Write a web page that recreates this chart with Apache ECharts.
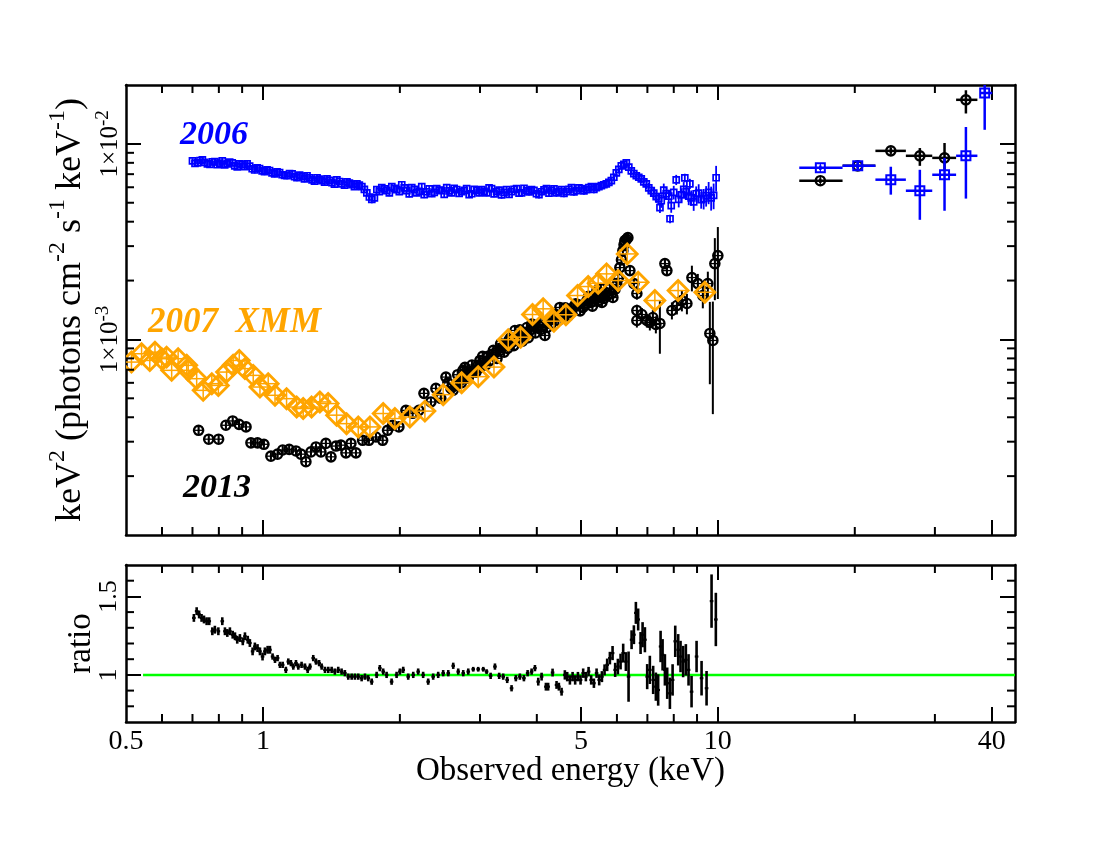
<!DOCTYPE html>
<html><head><meta charset="utf-8">
<script src="https://cdn.jsdelivr.net/npm/echarts@6/dist/echarts.min.js"></script>
<style>html,body{margin:0;padding:0;background:#fff}#c{width:1100px;height:850px}</style>
</head><body><div id="c"></div>
<script>
// ---------------- DATA ----------------
// flux values in units of 1e-3 keV^2 photons cm^-2 s^-1 keV^-1
const FLUX_UNIT = 1e-3;

// 2006 (blue squares): [E keV, flux, relative error]
const blue2006 = [
[0.700,8.19,.03],[0.718,8.00,.03],[0.736,8.29,.03],[0.755,7.91,.03],[0.774,8.09,.03],[0.794,7.82,.03],
[0.814,8.19,.035],[0.835,7.91,.03],[0.856,8.00,.03],[0.878,7.63,.03],[0.900,7.82,.035],[0.923,7.91,.035],
[0.947,7.46,.04],[0.971,7.55,.04],[0.996,7.28,.04],[1.021,7.37,.04],[1.047,7.11,.04],[1.074,7.20,.04],
[1.102,6.95,.04],[1.130,6.87,.04],[1.159,7.03,.045],[1.188,6.71,.04],[1.219,6.79,.04],[1.250,6.87,.045],
[1.282,6.55,.04],[1.315,6.71,.04],[1.348,6.48,.04],[1.383,6.63,.045],[1.418,6.33,.04],[1.454,6.55,.04],
[1.491,6.25,.04],[1.530,6.40,.04],[1.569,6.18,.04],[1.609,6.25,.045],[1.650,6.04,.04],[1.692,5.62,.045],
[1.735,5.20,.045],[1.780,5.83,.045],[1.825,5.97,.04],[1.872,5.76,.04],[1.920,6.04,.04],[1.969,5.83,.04],
[2.019,6.18,.045],[2.071,5.76,.04],[2.124,5.97,.04],[2.178,5.62,.04],[2.234,6.04,.045],[2.291,5.69,.04],
[2.350,5.56,.04],[2.410,5.90,.04],[2.471,5.76,.04],[2.535,5.97,.045],[2.599,5.62,.04],[2.666,5.83,.04],
[2.734,5.69,.04],[2.804,5.90,.04],[2.876,5.56,.04],[2.949,5.76,.04],[3.025,5.83,.045],[3.102,5.62,.04],
[3.181,5.90,.045],[3.263,5.69,.04],[3.346,5.49,.045],[3.432,5.83,.04],[3.520,5.69,.04],[3.610,5.90,.045],
[3.702,5.62,.04],[3.797,5.76,.04],[3.894,5.83,.045],[3.993,5.56,.04],[4.096,5.69,.045],[4.200,5.90,.04],
[4.308,5.76,.04],[4.418,5.62,.045],[4.531,5.83,.04],[4.647,5.69,.045],[4.766,5.97,.04],[4.888,5.76,.045],
[5.013,5.90,.04],[5.141,5.83,.045],[5.272,6.04,.04],[5.407,5.97,.045],[5.546,6.11,.045],[5.687,6.25,.045],
[5.833,6.48,.045],[5.982,7.11,.045],[6.135,7.72,.045],[6.292,8.00,.045],[6.453,7.28,.045],[6.618,6.87,.05],
[6.787,6.63,.05],[6.961,6.25,.06],[7.139,5.76,.06],[7.321,5.37,.07],[7.509,5.12,.08],[7.701,5.56,.07],
[7.898,4.83,.08],[8.100,6.55,.06],[8.307,5.49,.08],[8.519,5.69,.08],[8.737,5.30,.09],[8.961,5.56,.09],
[9.190,5.18,.1],[9.425,5.43,.12],[9.666,5.30,.14],[9.913,6.71,.15],
[7.46,4.72,.06],[7.85,4.14,.05],[8.46,6.70,.05],[8.68,6.25,.06]
];
// 2006, interleaved channels (blue squares): [E keV, flux, relative error]
const blue2006b = [
[0.709,7.95,.03],[0.727,8.22,.03],[0.745,8.05,.03],[0.765,7.86,.03],[0.784,8.12,.03],[0.804,7.98,.03],
[0.824,7.80,.03],[0.845,8.06,.03],[0.867,7.72,.03],[0.889,7.90,.035],[0.912,7.65,.035],[0.935,7.70,.035],
[0.959,7.35,.04],[0.983,7.48,.04],[1.008,7.20,.04],[1.034,7.30,.04],[1.061,7.02,.04],[1.088,7.12,.04],
[1.116,6.90,.04],[1.144,7.05,.04],[1.174,6.80,.04],[1.204,6.92,.04],[1.234,6.62,.04],[1.266,6.70,.04],
[1.298,6.45,.04],[1.331,6.60,.04],[1.366,6.38,.04],[1.400,6.50,.04],[1.436,6.22,.04],[1.473,6.42,.04],
[1.511,6.15,.04],[1.549,6.30,.04],[1.589,6.05,.04],[1.629,6.15,.04],[1.671,5.85,.04],[1.714,5.35,.045],
[1.758,5.30,.045],[1.802,5.70,.04],[1.849,5.88,.04],[1.896,5.62,.04],[1.944,5.92,.04],[1.994,5.70,.04],
[2.045,5.95,.04],[2.097,5.55,.04],[2.151,5.85,.04],[2.206,5.72,.04],[2.262,5.50,.04],[2.320,5.88,.04],
[2.380,5.65,.04],[2.440,5.80,.04],[2.503,5.52,.04],[2.567,5.75,.04],[2.632,5.92,.04],[2.700,5.58,.04],
[2.769,5.78,.04],[2.840,5.50,.04],[2.912,5.85,.04],[2.987,5.62,.04],[3.063,5.72,.04],[3.141,5.95,.04],
[3.222,5.55,.04],[3.304,5.80,.04],[3.389,5.65,.04],[3.476,5.52,.04],[3.565,5.85,.04],[3.656,5.60,.04],
[3.749,5.92,.04],[3.845,5.68,.04],[3.943,5.78,.04],[4.044,5.50,.045],[4.148,5.82,.045],[4.254,5.60,.045],
[4.363,5.88,.045],[4.474,5.70,.045],[4.589,5.58,.045],[4.706,5.85,.045],[4.827,5.68,.045],[4.950,5.95,.045],
[5.077,5.75,.045],[5.206,5.98,.045],[5.339,5.85,.045],[5.476,6.05,.045],[5.616,6.18,.045],[5.760,6.35,.045],
[5.907,6.75,.045],[6.058,7.40,.045],[6.213,7.85,.045],[6.372,7.60,.045],[6.535,7.05,.05],[6.702,6.75,.05],
[6.874,6.40,.06],[7.050,5.95,.06],[7.230,5.60,.07],[7.415,5.25,.07],[7.605,5.80,.08],[7.799,5.40,.08],
[7.999,5.65,.08],[8.203,5.20,.09],[8.413,5.85,.09],[8.628,5.40,.1],[8.849,5.05,.1],[9.075,5.60,.11],
[9.307,5.25,.12],[9.545,5.65,.13],[9.789,5.45,.15]
];

// 2006 hard X-ray (blue): [Elo, Ehi, E, flux, fluxLo, fluxHi]
const blue2006Hard = [
[15.1,18.8,16.8,7.55,7.35,7.75],[18.8,22.2,20.3,7.72,7.30,8.15],[22.2,25.9,24.0,6.56,5.50,7.64],
[25.9,29.6,27.8,5.76,4.09,7.37],[29.6,33.4,31.5,6.95,4.55,8.48],[33.4,37.2,35.1,8.69,5.25,12.2],
[37.7,40.1,38.6,18.2,11.8,21.0]
];

// 2013 (black circles): [E keV, flux, relative error]
const black2013 = [
[0.722,0.343,.04],[0.760,0.309,.04],[0.799,0.309,.04],[0.829,0.364,.04],[0.858,0.383,.04],[0.886,0.368,.04],
[0.918,0.357,.04],[0.941,0.296,.04],[0.973,0.296,.04],[1.005,0.291,.04],[1.041,0.253,.04],[1.077,0.259,.04],
[1.105,0.272,.04],[1.142,0.274,.04],[1.182,0.269,.04],[1.212,0.259,.04],[1.243,0.237,.04],[1.275,0.266,.04],
[1.308,0.282,.04],[1.341,0.266,.04],[1.375,0.294,.04],[1.411,0.251,.04],[1.447,0.285,.04],[1.484,0.288,.04],
[1.522,0.263,.04],[1.561,0.294,.04],[1.601,0.263,.04],[1.656,0.305,.04],[1.710,0.305,.04],[1.772,0.317,.04],
[1.833,0.305,.04],[1.879,0.343,.04],[1.928,0.364,.04],[1.990,0.357,.04],[2.062,0.434,.04],[2.133,0.419,.04],
[2.202,0.434,.04],[2.259,0.530,.04],[2.340,0.479,.04],[2.400,0.562,.04],[2.525,0.642,.04],[2.590,0.562,.04],
[2.656,0.582,.05],[2.710,0.618,.05],[2.752,0.695,.05],[2.794,0.632,.05],[2.851,0.679,.05],[2.909,0.695,.05],
[2.969,0.737,.05],[2.999,0.781,.05],[3.060,0.763,.05],[3.123,0.819,.05],[3.187,0.838,.05],[3.252,0.858,.05],
[3.318,0.879,.05],[3.352,0.910,.05],[3.420,0.932,.05],[3.473,0.988,.05],[3.526,0.965,.05],[3.580,1.111,.05],
[3.635,1.036,.05],[3.690,1.073,.05],[3.747,1.048,.05],[3.804,1.151,.05],[3.862,1.111,.05],[3.941,1.165,.05],
[4.002,1.151,.05],[4.083,1.125,.05],[4.167,1.048,.05],[4.252,1.250,.05],[4.339,1.280,.05],[4.428,1.326,.05],
[4.495,1.457,.05],[4.587,1.374,.05],[4.658,1.357,.05],[4.729,1.406,.05],[4.826,1.473,.05],[4.925,1.508,.05],
[5.051,1.457,.05],[5.154,1.581,.05],[5.260,1.545,.05],[5.340,1.657,.05],[5.422,1.778,.05],[5.505,1.696,.05],
[5.561,1.545,.05],[5.674,1.737,.05],[5.790,1.821,.05],[5.879,1.638,.05],[5.998,1.908,.05],[6.090,2.330,.05],
[6.183,2.845,.05],[6.246,3.200,.05],[6.342,3.314,.05],
[6.407,2.249,.06],[6.538,1.931,.06],[6.637,1.717,.07],[6.637,1.406,.07],[6.637,1.250,.08],[6.808,1.341,.08],
[6.982,1.250,.08],[7.088,1.221,.09],[7.196,1.295,.09],[7.307,1.193,.1],[7.457,1.207,.3],[7.649,2.442,.06],
[7.727,2.249,.06],[7.925,1.406,.1],[8.128,1.491,.1],[8.336,1.581,.12],[8.550,1.527,.12],[8.769,2.072,.15],
[9.036,1.931,.12],[9.268,1.677,.14],[9.506,1.931,.15],[9.603,1.073,.45],[9.750,0.988,.58],[9.849,2.442,.35],
[10.0,2.683,.4]
];
// 2013, second detector (black circles): [E keV, flux, relative error]
const black2013b = [
[2.46,0.50,.05],[2.55,0.60,.05],[2.62,0.55,.05],[2.68,0.66,.05],[2.73,0.60,.05],[2.78,0.72,.05],[2.83,0.64,.05],
[2.88,0.74,.05],[2.94,0.68,.05],[3.00,0.72,.05],[3.04,0.82,.05],[3.09,0.74,.05],[3.15,0.78,.05],[3.21,0.88,.05],
[3.27,0.80,.05],[3.33,0.95,.05],[3.39,0.86,.05],[3.45,0.90,.05],[3.50,1.02,.05],[3.56,0.93,.05],[3.61,1.00,.05],
[3.67,1.12,.05],[3.72,0.98,.05],[3.78,1.08,.05],[3.83,1.02,.05],[3.90,1.20,.05],[3.97,1.08,.05],[4.04,1.18,.05],
[4.12,1.22,.05],[4.21,1.15,.05],[4.30,1.20,.05],[4.38,1.35,.05],[4.46,1.25,.05],[4.55,1.30,.05],[4.62,1.45,.05],
[4.69,1.32,.05],[4.77,1.38,.05],[4.87,1.52,.05],[4.98,1.40,.05],[5.10,1.50,.05],[5.20,1.66,.05],[5.30,1.48,.05],
[5.38,1.60,.05],[5.46,1.58,.05],[5.53,1.82,.05],[5.62,1.62,.05],[5.72,1.68,.05],[5.84,1.72,.05],[5.94,1.80,.05],
[6.04,2.05,.05],[6.14,2.55,.05],[6.22,3.05,.05],[6.30,3.25,.05]
];

// 2013 hard X-ray (black): [Elo, Ehi, E, flux, fluxLo, fluxHi]
const black2013Hard = [
[15.1,18.8,16.8,6.48,6.30,6.66],[18.8,22.2,20.3,7.72,7.50,7.95],[22.2,25.9,24.0,9.21,8.90,9.55],
[25.9,29.6,27.8,8.69,7.72,9.52],[29.6,33.4,31.5,8.48,7.28,10.1],[33.4,37.2,35.1,16.8,14.3,18.8]
];

// 2007 XMM (orange diamonds): [E keV, flux]
const xmm2007 = [
[0.514,0.766],[0.541,0.845],[0.564,0.781],[0.579,0.861],[0.599,0.797],[0.614,0.812],[0.630,0.695],
[0.651,0.797],[0.680,0.737],[0.685,0.695],[0.715,0.630],[0.739,0.549],[0.772,0.594],[0.798,0.582],
[0.832,0.681],[0.860,0.737],[0.887,0.781],[0.913,0.709],[0.952,0.655],[0.985,0.571],[1.027,0.594],
[1.063,0.518],[1.127,0.498],[1.186,0.451],[1.226,0.443],[1.279,0.451],[1.334,0.479],[1.391,0.470],
[1.452,0.410],[1.527,0.371],[1.620,0.357],[1.719,0.357],[1.838,0.418],[1.950,0.394],[2.104,0.401],
[2.270,0.430],[2.490,0.522],[2.734,0.600],[2.973,0.645],[3.220,0.722],[3.461,0.997],[3.685,1.027],
[3.914,1.341],[4.130,1.434],[4.361,1.240],[4.634,1.337],[4.916,1.677],[5.188,1.864],[5.457,1.938],
[5.693,2.164],[6.038,2.000],[6.321,2.737],[6.681,1.961],[7.270,1.581],[8.178,1.778],[9.363,1.743]
];

// ratio panel: [E keV, ratio, error]
const ratioData = [
[0.705,1.363,.025],[0.715,1.406,.025],[0.724,1.385,.025],[0.733,1.363,.025],[0.742,1.353,.025],[0.752,1.342,.025],
[0.762,1.342,.025],[0.774,1.278,.025],[0.784,1.288,.025],[0.798,1.278,.025],[0.814,1.342,.025],[0.825,1.278,.025],
[0.835,1.267,.025],[0.846,1.278,.025],[0.858,1.256,.025],[0.868,1.246,.025],[0.878,1.224,.025],[0.890,1.235,.025],
[0.903,1.214,.025],[0.913,1.246,.025],[0.926,1.224,.025],[0.936,1.203,.025],[0.949,1.150,.025],[0.960,1.181,.025],
[0.973,1.171,.025],[0.985,1.150,.025],[0.998,1.117,.025],[1.010,1.150,.025],[1.024,1.160,.025],[1.036,1.160,.025],
[1.050,1.117,.02],[1.063,1.096,.02],[1.077,1.107,.02],[1.090,1.064,.02],[1.105,1.064,.02],[1.123,1.032,.02],
[1.137,1.085,.02],[1.152,1.075,.02],[1.166,1.053,.02],[1.182,1.075,.02],[1.196,1.053,.02],[1.216,1.064,.02],
[1.237,1.053,.02],[1.254,1.032,.02],[1.269,1.053,.02],[1.290,1.107,.02],[1.308,1.085,.02],[1.329,1.075,.02],
[1.346,1.053,.02],[1.369,1.032,.02],[1.392,1.032,.02],[1.416,1.032,.02],[1.439,1.021,.02],[1.464,1.032,.02],
[1.489,1.021,.02],[1.514,1.011,.02],[1.540,0.989,.02],[1.567,0.989,.02],[1.593,0.989,.02],[1.620,0.989,.02],
[1.648,0.979,.02],[1.676,0.989,.02],[1.704,0.979,.02],[1.734,0.957,.02],[1.778,1.000,.02],[1.807,1.043,.02],
[1.838,1.021,.02],[1.870,1.000,.02],[1.918,0.957,.02],[1.967,1.000,.02],[2.000,1.021,.02],[2.034,1.032,.02],
[2.086,0.989,.02],[2.140,1.000,.02],[2.194,1.021,.02],[2.250,1.000,.02],[2.308,0.957,.02],[2.367,0.989,.02],
[2.428,1.000,.02],[2.490,1.011,.02],[2.555,1.011,.02],[2.620,1.058,.02],[2.687,1.021,.02],[2.756,1.011,.02],
[2.827,1.021,.02],[2.899,1.036,.015],[2.973,1.036,.015],[3.050,1.036,.015],[3.102,1.021,.015],[3.166,0.994,.02],
[3.236,1.053,.02],[3.306,0.994,.02],[3.374,0.989,.02],[3.443,0.968,.02],[3.520,0.915,.02],[3.597,0.979,.02],
[3.671,0.989,.02],[3.747,0.979,.02],[3.818,1.011,.02],[3.896,1.021,.02],[3.962,1.043,.02],[4.029,0.957,.025],
[4.098,0.989,.025],[4.188,0.925,.025],[4.236,0.925,.025],[4.332,1.015,.025],[4.420,0.936,.025],[4.472,0.925,.025],
[4.534,0.893,.025],[4.610,1.000,.03],[4.665,0.989,.03],[4.729,0.968,.03],[4.794,0.989,.03],[4.857,0.968,.03],
[4.925,0.989,.03],[4.991,0.968,.03],[5.058,1.011,.03],[5.127,0.989,.03],[5.198,1.021,.03],[5.267,0.968,.03],
[5.340,0.947,.03],[5.413,1.011,.03],[5.485,0.968,.035],[5.561,0.989,.035],[5.636,1.032,.035],[5.711,1.064,.04],
[5.790,1.107,.04],[5.869,1.139,.045],[5.947,1.032,.045],[6.029,1.053,.05],[6.112,1.085,.05],[6.193,1.139,.06],
[6.278,1.085,.06],[6.364,0.989,.16],[6.462,1.224,.06],[6.538,1.256,.06],[6.604,1.395,.07],[6.681,1.353,.07],
[6.763,1.203,.07],[6.832,1.256,.08],[6.913,1.224,.08],[6.993,0.989,.08],[7.088,1.032,.09],[7.208,0.968,.09],
[7.307,0.925,.09],[7.393,0.904,.1],[7.484,1.181,.1],[7.560,1.128,.1],[7.649,1.032,.1],[7.739,0.947,.1],
[7.845,0.883,.1],[7.953,0.968,.1],[8.060,1.214,.1],[8.182,1.160,.1],[8.279,1.117,.1],[8.389,1.085,.1],
[8.505,1.096,.1],[8.622,1.032,.1],[8.754,0.893,.1],[8.979,1.117,.1],[9.209,0.979,.11],[9.445,0.915,.11],
[9.687,1.470,.17],[9.899,1.353,.17]
];
const unityLine = [[0.545,1],[45,1]];

// axis ranges and ticks
const X_RANGE = [0.5, 45];
const Y_TOP_RANGE = [1e-4, 2e-2];
const Y_RATIO_RANGE = [0.7, 1.7];
const xLabelValues = [0.5, 1, 5, 10, 40];
const xLabelTexts = ['0.5', '1', '5', '10', '40'];
const xMajorTicks = [1, 5, 10, 40];
const xMinorTicks = [0.6, 0.7, 0.8, 0.9, 2, 3, 4, 6, 7, 8, 9, 20, 30];
const yTopLabelValues = [1e-3, 1e-2];
const yTopLabelExps = ['-3', '-2'];
const yTopMinorTicks = [2e-4,3e-4,4e-4,5e-4,6e-4,7e-4,8e-4,9e-4,2e-3,3e-3,4e-3,5e-3,6e-3,7e-3,8e-3,9e-3];
const yRatioLabelValues = [1, 1.5];
const yRatioLabelTexts = ['1', '1.5'];
const yRatioMinorTicks = [0.8, 0.9, 1.1, 1.2, 1.3, 1.4, 1.6];

// ---------------- CHART ----------------
const SERIF = '"Liberation Serif", "Times New Roman", Times, serif';
const BLUE = '#0000ff', ORANGE = '#ffa500', GREEN = '#00ff00', BLACK = '#000000';

function pick(vals, texts) {
  return function (v) {
    let best = 0, bd = Infinity;
    vals.forEach(function (t, i) { const d = Math.abs(Math.log(t) - Math.log(v)); if (d < bd) { bd = d; best = i; } });
    return texts[best];
  };
}

// rows: [E, F, Flo, Fhi, Elo, Ehi]
const relRows = arr => arr.map(r => [r[0], r[1]*FLUX_UNIT, r[1]*FLUX_UNIT*(1-r[2]), r[1]*FLUX_UNIT*(1+r[2]), 0, 0]);
const hardRows = arr => arr.map(r => [r[2], r[3]*FLUX_UNIT, r[4]*FLUX_UNIT, r[5]*FLUX_UNIT, r[0], r[1]]);
const rowsBlue = relRows(blue2006).concat(relRows(blue2006b));
const rowsBlueHard = hardRows(blue2006Hard);
const rowsBlack = relRows(black2013).concat(relRows(black2013b));
const rowsBlackHard = hardRows(black2013Hard);
const rowsXmm = xmm2007.map(r => [r[0], r[1]*FLUX_UNIT, r[1]*FLUX_UNIT, r[1]*FLUX_UNIT, 0, 0]);
const rowsRatio = ratioData.map(r => [r[0], r[1], r[1]-r[2], r[1]+r[2], 0, 0]);

function errSeries(o) {
  return {
    type: 'custom', name: o.name, xAxisIndex: o.xi, yAxisIndex: o.yi, clip: true, silent: true, z: o.z || 3,
    data: o.data, encode: { x: 0, y: 1 },
    renderItem: function (params, api) {
      const e = api.value(0), f = api.value(1), flo = api.value(2), fhi = api.value(3), elo = api.value(4), ehi = api.value(5);
      const c = api.coord([e, f]);
      const lo = api.coord([e, flo]), hi = api.coord([e, fhi]);
      const ch = [];
      if (Math.abs(lo[1] - hi[1]) > 0.5)
        ch.push({ type: 'line', shape: { x1: c[0], y1: lo[1], x2: c[0], y2: hi[1] }, style: { stroke: o.color, lineWidth: o.errLw } });
      if (elo > 0 && ehi > 0) {
        const a = api.coord([elo, f]), b = api.coord([ehi, f]);
        ch.push({ type: 'line', shape: { x1: a[0], y1: c[1], x2: b[0], y2: c[1] }, style: { stroke: o.color, lineWidth: o.binLw || o.errLw } });
      }
      const s = o.size, ms = { stroke: o.color, lineWidth: o.lw, fill: 'none' };
      const cross = o.cross ? [
        { type: 'line', shape: { x1: c[0]-s, y1: c[1], x2: c[0]+s, y2: c[1] }, style: { stroke: o.color, lineWidth: o.crossLw || 1.2 } },
        { type: 'line', shape: { x1: c[0], y1: c[1]-s, x2: c[0], y2: c[1]+s }, style: { stroke: o.color, lineWidth: o.crossLw || 1.2 } }
      ] : [];
      if (o.marker === 'square') ch.push({ type: 'rect', shape: { x: c[0]-s, y: c[1]-s, width: 2*s, height: 2*s }, style: ms });
      else if (o.marker === 'circle') ch.push({ type: 'circle', shape: { cx: c[0], cy: c[1], r: s }, style: ms });
      else if (o.marker === 'diamond') ch.push({ type: 'polygon', shape: { points: [[c[0], c[1]-s], [c[0]+s, c[1]], [c[0], c[1]+s], [c[0]-s, c[1]]] }, style: ms });
      else if (o.marker === 'hbar') ch.push({ type: 'line', shape: { x1: c[0]-s, y1: c[1], x2: c[0]+s, y2: c[1] }, style: { stroke: o.color, lineWidth: o.lw } });
      return { type: 'group', children: ch.concat(cross) };
    }
  };
}

function minorTicks(xi, yi, xVals, yVals, yRef, xRef) {
  const L = 8;
  return {
    type: 'custom', xAxisIndex: xi, yAxisIndex: yi, silent: true, clip: false, z: 6,
    data: xVals.map(v => [v, yRef, 0]).concat(yVals.map(v => [xRef, v, 1])),
    encode: { x: 0, y: 1 },
    renderItem: function (params, api) {
      const cs = params.coordSys;
      const p = api.coord([api.value(0), api.value(1)]);
      const st = { stroke: BLACK, lineWidth: 2 };
      if (api.value(2) === 0) {
        return { type: 'group', children: [
          { type: 'line', shape: { x1: p[0], y1: cs.y + cs.height, x2: p[0], y2: cs.y + cs.height - L }, style: st },
          { type: 'line', shape: { x1: p[0], y1: cs.y, x2: p[0], y2: cs.y + L }, style: st }
        ] };
      }
      return { type: 'group', children: [
        { type: 'line', shape: { x1: cs.x, y1: p[1], x2: cs.x + L, y2: p[1] }, style: st },
        { type: 'line', shape: { x1: cs.x + cs.width, y1: p[1], x2: cs.x + cs.width - L, y2: p[1] }, style: st }
      ] };
    }
  };
}

const lineStyle = { color: BLACK, width: 2.5 };
const majorTick = vals => ({ show: true, inside: true, length: 15, lineStyle: { color: BLACK, width: 2 }, customValues: vals });

function xAxis(gi, pos, labels) {
  const a = {
    type: 'log', logBase: 10, gridIndex: gi, position: pos, min: X_RANGE[0], max: X_RANGE[1],
    axisLine: { show: true, onZero: false, lineStyle: lineStyle },
    axisTick: majorTick(xMajorTicks), splitLine: { show: false }, minorTick: { show: false },
    axisLabel: { show: false }
  };
  if (labels) {
    a.axisLabel = { show: true, customValues: xLabelValues, formatter: pick(xLabelValues, xLabelTexts),
      fontFamily: SERIF, fontSize: 28, color: BLACK, margin: 6 };
    a.name = 'Observed energy (keV)';
    a.nameLocation = 'middle'; a.nameGap = 33; a.nameMoveOverlap = false;
    a.nameTextStyle = { fontFamily: SERIF, fontSize: 33, color: BLACK, lineHeight: 33 };
  }
  return a;
}

const option = {
  animation: false,
  backgroundColor: '#ffffff',
  grid: [
    { left: 126, top: 85, width: 889, height: 450, outerBoundsMode: 'none', containLabel: false },
    { left: 126, top: 565, width: 889, height: 157, outerBoundsMode: 'none', containLabel: false }
  ],
  xAxis: [ xAxis(0, 'bottom', false), xAxis(0, 'top', false), xAxis(1, 'bottom', true), xAxis(1, 'top', false) ],
  yAxis: [
    { type: 'log', logBase: 10, gridIndex: 0, position: 'left', min: Y_TOP_RANGE[0], max: Y_TOP_RANGE[1],
      axisLine: { show: true, onZero: false, lineStyle: lineStyle }, axisTick: majorTick(yTopLabelValues),
      splitLine: { show: false }, minorTick: { show: false },
      axisLabel: { show: true, customValues: yTopLabelValues, rotate: 90, margin: 0, color: BLACK,
        formatter: function (v) { return '{m|1×10}{s|' + pick(yTopLabelValues, yTopLabelExps)(v) + '}'; },
        rich: { m: { fontFamily: SERIF, fontSize: 25, lineHeight: 32, color: BLACK },
                s: { fontFamily: SERIF, fontSize: 19, lineHeight: 17, verticalAlign: 'top', color: BLACK } } },
      name: 'keV{s|2} (photons cm{s|-2} s{s|-1} keV{s|-1})', nameLocation: 'middle', nameRotate: 90, nameGap: 30,
      nameMoveOverlap: false,
      nameTextStyle: { fontFamily: SERIF, fontSize: 36, lineHeight: 50, color: BLACK,
        rich: { s: { fontFamily: SERIF, fontSize: 24, lineHeight: 24, verticalAlign: 'top', color: BLACK } } } },
    { type: 'log', logBase: 10, gridIndex: 0, position: 'right', min: Y_TOP_RANGE[0], max: Y_TOP_RANGE[1],
      axisLine: { show: true, onZero: false, lineStyle: lineStyle }, axisTick: majorTick(yTopLabelValues),
      splitLine: { show: false }, minorTick: { show: false }, axisLabel: { show: false } },
    { type: 'value', gridIndex: 1, position: 'left', min: Y_RATIO_RANGE[0], max: Y_RATIO_RANGE[1],
      axisLine: { show: true, onZero: false, lineStyle: lineStyle }, axisTick: majorTick(yRatioLabelValues),
      splitLine: { show: false },
      axisLabel: { show: true, customValues: yRatioLabelValues, rotate: 90, margin: 4, color: BLACK,
        fontFamily: SERIF, fontSize: 26, formatter: pick(yRatioLabelValues, yRatioLabelTexts) },
      name: 'ratio', nameLocation: 'middle', nameRotate: 90, nameGap: 28, nameMoveOverlap: false,
      nameTextStyle: { fontFamily: SERIF, fontSize: 33, lineHeight: 33, color: BLACK } },
    { type: 'value', gridIndex: 1, position: 'right', min: Y_RATIO_RANGE[0], max: Y_RATIO_RANGE[1],
      axisLine: { show: true, onZero: false, lineStyle: lineStyle }, axisTick: majorTick(yRatioLabelValues),
      splitLine: { show: false }, axisLabel: { show: false } }
  ],
  graphic: [
    { type: 'text', x: 180, y: 135, silent: true, style: { text: '2006', fill: BLUE, align: 'left', verticalAlign: 'middle',
      font: 'italic bold 34px ' + SERIF } },
    { type: 'text', x: 148, y: 323, silent: true, style: { text: '2007  XMM', fill: ORANGE, align: 'left', verticalAlign: 'middle',
      font: 'italic bold 35px ' + SERIF } },
    { type: 'text', x: 183, y: 488, silent: true, style: { text: '2013', fill: BLACK, align: 'left', verticalAlign: 'middle',
      font: 'italic bold 34px ' + SERIF } }
  ],
  series: [
    errSeries({ name: '2013', data: rowsBlack, xi: 0, yi: 0, color: BLACK, marker: 'circle', size: 4.6, lw: 2.4, errLw: 2, cross: true, crossLw: 1.3, z: 3 }),
    errSeries({ name: '2013 hard', data: rowsBlackHard, xi: 0, yi: 0, color: BLACK, marker: 'circle', size: 4.6, lw: 2.4, errLw: 2.5, binLw: 2.5, cross: true, z: 3 }),
    errSeries({ name: '2007 XMM', data: rowsXmm, xi: 0, yi: 0, color: ORANGE, marker: 'diamond', size: 10, lw: 2.8, errLw: 1.5, cross: true, crossLw: 1.5, z: 4 }),
    errSeries({ name: '2006', data: rowsBlue, xi: 0, yi: 0, color: BLUE, marker: 'square', size: 3, lw: 1.7, errLw: 1.8, cross: false, z: 5 }),
    errSeries({ name: '2006 hard', data: rowsBlueHard, xi: 0, yi: 0, color: BLUE, marker: 'square', size: 4.5, lw: 2, errLw: 2.5, binLw: 2.5, cross: true, z: 5 }),
    { type: 'line', name: 'unity', xAxisIndex: 2, yAxisIndex: 2, data: unityLine, symbol: 'none', silent: true, z: 2,
      lineStyle: { color: GREEN, width: 2.5 } },
    errSeries({ name: 'ratio', data: rowsRatio, xi: 2, yi: 2, color: BLACK, marker: 'hbar', size: 1.8, lw: 2.2, errLw: 2.6, z: 3 }),
    minorTicks(0, 0, xMinorTicks, yTopMinorTicks, Y_TOP_RANGE[0], X_RANGE[0]),
    minorTicks(2, 2, xMinorTicks, yRatioMinorTicks, Y_RATIO_RANGE[0], X_RANGE[0])
  ]
};

const chart = echarts.init(document.getElementById('c'), null, { renderer: 'canvas', width: 1100, height: 850 });
chart.setOption(option);
</script></body></html>
